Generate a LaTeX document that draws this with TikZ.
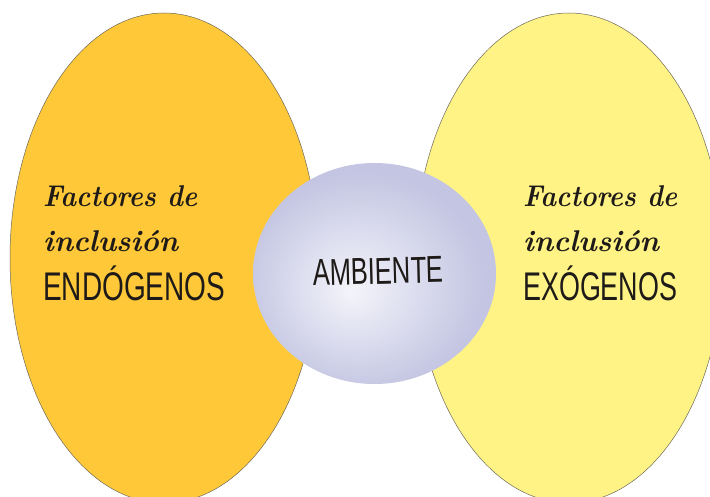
\documentclass[tikz,border=0pt]{standalone}
\usepackage{fontspec}
\usetikzlibrary{shapes.geometric}
\newfontfamily\capfont{Liberation Sans}
\definecolor{endofill}{HTML}{FFC838}
\definecolor{exofill}{HTML}{FFF386}
\definecolor{ambin}{HTML}{F4F4FA}
\definecolor{ambout}{HTML}{C3C5E2}
\definecolor{edgegray}{HTML}{6E6A5A}
\definecolor{inkcol}{HTML}{1E1A18}
\pgfdeclareradialshading{ambshade}{\pgfpoint{-5bp}{-4bp}}{color(0bp)=(ambin); color(25bp)=(ambout); color(50bp)=(ambout)}
\tikzset{
  bigoval/.style={ellipse, draw=edgegray, line width=0.5pt, minimum width=308pt, minimum height=490pt, inner sep=0pt},
  ambnode/.style={ellipse, shading=ambshade, minimum width=243pt, minimum height=221pt, inner sep=0pt},
  lowtxt/.style={anchor=base west, inner sep=0pt, font=\fontsize{30}{30}\selectfont\bfseries\itshape, text=inkcol},
  captxt/.style={anchor=base west, inner sep=0pt, font=\fontsize{40}{40}\selectfont\capfont, text=inkcol},
}
\begin{document}
\begin{tikzpicture}[x=1pt,y=-1pt]
\clip (0,0) rectangle (710,497);
\fill[white] (0,0) rectangle (710,497);
\node[bigoval, fill=endofill] (endo) at (164,258) {};
\node[bigoval, fill=exofill] (exo) at (569,258) {};
\node[ambnode] (amb) at (374.5,273.5) {};
\node[anchor=base, inner sep=0pt, font=\fontsize{37.5}{37.5}\selectfont\capfont, text=inkcol, rotate=1.5] (ambtxt) at (378.5,284) {\resizebox{131pt}{\height}{AMBIENTE}};
\node[lowtxt] (l1) at (43,207) {\resizebox{154pt}{\height}{Factores de}};
\node[lowtxt] (l2) at (43,252) {\resizebox{135pt}{\height}{inclusión}};
\node[captxt] (l3) at (43,301) {\resizebox{182pt}{\height}{ENDÓGENOS}};
\node[lowtxt] (r1) at (523,207) {\resizebox{154pt}{\height}{Factores de}};
\node[lowtxt] (r2) at (523,252) {\resizebox{136pt}{\height}{inclusión}};
\node[captxt] (r3) at (523,301) {\resizebox{154pt}{\height}{EXÓGENOS}};
\end{tikzpicture}
\end{document}
